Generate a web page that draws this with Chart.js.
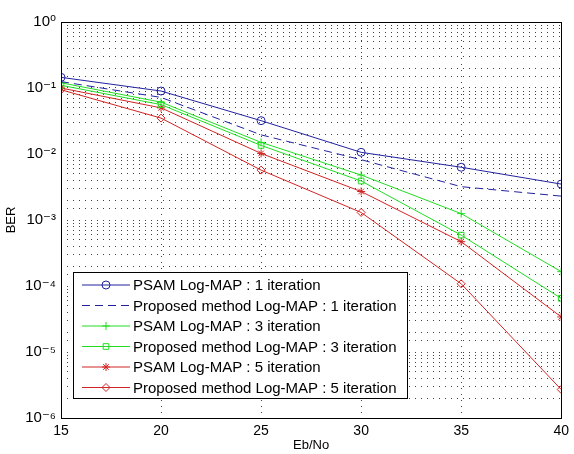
<!DOCTYPE html>
<html>
<head>
<meta charset="utf-8">
<script src="https://cdn.jsdelivr.net/npm/chart.js@4.4.0/dist/chart.umd.min.js"></script>
<style>
  html, body { margin: 0; padding: 0; background: #fff; }
  #wrap { width: 574px; height: 454px; }
</style>
</head>
<body>
<div id="wrap"><canvas id="c" width="574" height="454"></canvas></div>
<script>
// values
const ebno = [15, 20, 25, 30, 35, 40];
const psam1 = [0.145, 0.09, 0.032, 0.0106, 0.0063, 0.0035];
const prop1 = [0.125, 0.072, 0.0195, 0.0082, 0.0032, 0.0023];
const psam3 = [0.12, 0.061, 0.015, 0.0048, 0.00125, 0.000165];
const prop3 = [0.11, 0.056, 0.0135, 0.0039, 0.00059, 0.000065];
const psam5 = [0.1, 0.05, 0.0102, 0.0027, 0.00047, 0.000034];
const prop5 = [0.094, 0.035, 0.0057, 0.0013, 0.000108, 0.0000027];

const seriesNames = [
    'PSAM Log-MAP : 1 iteration',
    'Proposed method Log-MAP : 1 iteration',
    'PSAM Log-MAP : 3 iteration',
    'Proposed method Log-MAP : 3 iteration',
    'PSAM Log-MAP : 5 iteration',
    'Proposed method Log-MAP : 5 iteration'
];
const xTicks = [15, 20, 25, 30, 35, 40];
const yDecades = [0, -1, -2, -3, -4, -5, -6];

const BLUE = '#22229e';
const GREEN = '#22dd22';
const RED = '#d02525';
const FONT = '"Liberation Sans", Arial, "DejaVu Sans", sans-serif';

const sup = {'0':'\u2070','1':'\u00b9','2':'\u00b2','3':'\u00b3','4':'\u2074','5':'\u2075','6':'\u2076','-':'\u207b'};
function supText(n) {
    return String(n).split('').map(ch => sup[ch]).join('');
}

function series(label, data, color, style, dash) {
    return {
        label: label,
        data: ebno.map((x, i) => ({x: x, y: data[i]})),
        borderColor: color,
        backgroundColor: 'rgba(0,0,0,0)',
        borderWidth: 1,
        borderDash: dash || [],
        pointStyle: style,
        pointRadius: style ? 4 : 0,
        pointBorderColor: color,
        pointBorderWidth: 1,
        pointBackgroundColor: 'rgba(0,0,0,0)',
        tension: 0
    };
}

// box round the plot, like matlab's axes
const boxPlugin = {
    id: 'box',
    afterDraw(chart) {
        const a = chart.chartArea;
        const ctx = chart.ctx;
        ctx.save();
        ctx.strokeStyle = '#000';
        ctx.lineWidth = 1;
        ctx.strokeRect(Math.round(a.left) + 0.5, Math.round(a.top) + 0.5,
            Math.round(a.right - a.left), Math.round(a.bottom - a.top));
        ctx.restore();
    }
};

// legend inside the axes, lower left
const legendPlugin = {
    id: 'matlabLegend',
    afterDatasetsDraw(chart) {
        const ctx = chart.ctx;
        const left = 73, top = 272, w = 334, h = 126;
        ctx.save();
        ctx.fillStyle = '#fff';
        ctx.fillRect(left, top, w, h);
        ctx.strokeStyle = '#000';
        ctx.lineWidth = 1;
        ctx.strokeRect(left + 0.5, top + 0.5, w, h);
        ctx.font = '15px ' + FONT;
        ctx.textBaseline = 'middle';
        chart.data.datasets.forEach((ds, i) => {
            const y = top + 13 + i * 20.5;
            ctx.save();
            ctx.strokeStyle = ds.borderColor;
            ctx.lineWidth = 1;
            ctx.setLineDash(ds.borderDash);
            ctx.beginPath();
            ctx.moveTo(82, y);
            ctx.lineTo(130, y);
            ctx.stroke();
            ctx.restore();
            if (ds.pointStyle) {
                ctx.save();
                ctx.strokeStyle = ds.borderColor;
                ctx.fillStyle = 'rgba(0,0,0,0)';
                ctx.lineWidth = 1;
                Chart.helpers.drawPoint(ctx, {pointStyle: ds.pointStyle, radius: 4, borderWidth: 1}, 106, y);
                ctx.restore();
            }
            ctx.fillStyle = '#000';
            ctx.fillText(ds.label, 133, y + 1);
        });
        ctx.restore();
    }
};

const ctx = document.getElementById('c').getContext('2d');
const myChart = new Chart(ctx, {
    type: 'line',
    data: {
        datasets: [
            series(seriesNames[0], psam1, BLUE, 'circle'),
            series(seriesNames[1], prop1, BLUE, false, [8, 5]),
            series(seriesNames[2], psam3, GREEN, 'cross'),
            series(seriesNames[3], prop3, GREEN, 'rect'),
            series(seriesNames[4], psam5, RED, 'star'),
            series(seriesNames[5], prop5, RED, 'rectRot')
        ]
    },
    options: {
        responsive: false,
        animation: false,
        devicePixelRatio: 1,
        layout: { padding: { top: 22, right: 8, left: 0, bottom: 0 } },
        plugins: {
            legend: { display: false },
            tooltip: { enabled: false }
        },
        scales: {
            x: {
                type: 'linear',
                min: 15,
                max: 40,
                afterFit: s => { s.height = 36; },
                afterBuildTicks: s => { s.ticks = xTicks.map(v => ({value: v})); },
                ticks: {
                    color: '#000',
                    padding: 5,
                    font: { family: FONT, size: 14 }
                },
                grid: { color: 'rgba(0,0,0,0.75)', lineWidth: 1, drawTicks: false },
                border: { display: false, dash: [1, 5] },
                title: {
                    display: true,
                    text: 'Eb/No',
                    color: '#000',
                    padding: { top: 0, bottom: 1 },
                    font: { family: FONT, size: 13 }
                }
            },
            y: {
                type: 'logarithmic',
                min: 1e-6,
                max: 1,
                afterFit: s => { s.width = 61; },
                ticks: {
                    autoSkip: false,
                    color: '#000',
                    padding: 5,
                    font: { family: FONT, size: 15 },
                    callback: v => {
                        const e = Math.round(Math.log10(v));
                        if (Math.abs(Math.log10(v) - e) < 1e-6 && yDecades.includes(e)) {
                            return '10' + supText(e);
                        }
                        return '';
                    }
                },
                grid: { color: 'rgba(0,0,0,0.75)', lineWidth: 1, drawTicks: false },
                border: { display: false, dash: [1, 5] },
                title: {
                    display: true,
                    text: 'BER',
                    color: '#000',
                    padding: { top: 4, bottom: 0 },
                    font: { family: FONT, size: 13 }
                }
            }
        }
    },
    plugins: [boxPlugin, legendPlugin]
});
</script>
</body>
</html>
